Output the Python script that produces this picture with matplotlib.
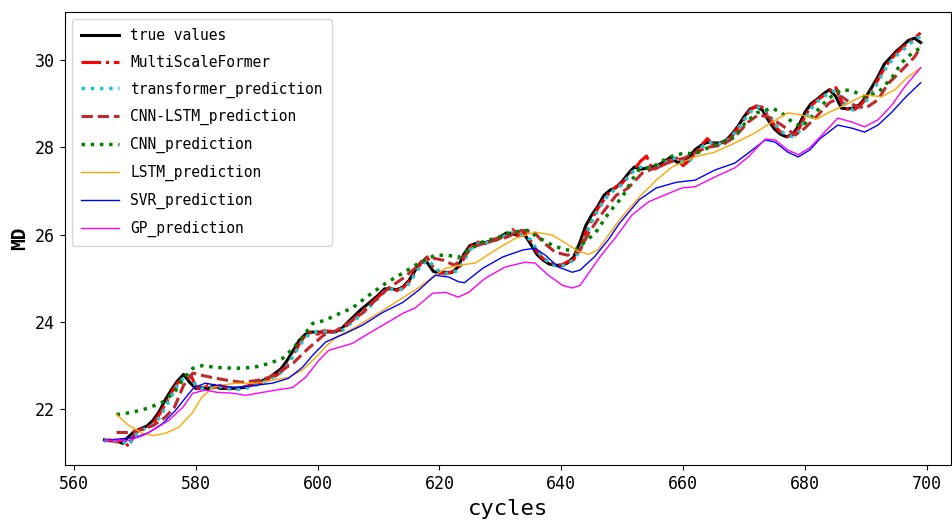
import matplotlib
matplotlib.use("Agg")
import matplotlib.pyplot as plt

# true values
true_c = [565, 566, 567, 568, 569, 570, 571, 572, 573, 574, 575, 576, 577, 578, 579, 580,
          581, 582, 583, 584, 586, 588, 590, 592, 594, 595, 596, 597, 598, 599, 601, 603,
          604, 605, 607, 609, 610, 611, 612, 613, 614, 615, 616, 617, 618, 619, 620, 621,
          622, 623, 624, 625, 626, 627, 628, 629, 630, 631, 632, 633, 634, 635, 636, 637,
          638, 639, 640, 641, 642, 643, 644, 645, 646, 647, 648, 649, 650, 651, 652, 653,
          654, 655, 656, 657, 658, 659, 660, 661, 662, 663, 664, 665, 666, 667, 668, 669,
          670, 671, 672, 673, 674, 675, 676, 677, 678, 679, 680, 681, 682, 683, 684, 685,
          686, 687, 688, 689, 690, 691, 692, 693, 694, 695, 696, 697, 698, 699]
true_v = [21.30, 21.28, 21.28, 21.22, 21.38, 21.50, 21.56, 21.62, 21.75, 21.95, 22.22, 22.45,
          22.65, 22.80, 22.62, 22.48, 22.50, 22.47, 22.55, 22.48, 22.48, 22.50, 22.60, 22.72,
          22.93, 23.12, 23.35, 23.58, 23.72, 23.77, 23.77, 23.78, 23.86, 24.00, 24.27, 24.50,
          24.62, 24.76, 24.76, 24.74, 24.80, 24.95, 25.18, 25.38, 25.36, 25.16, 25.12, 25.14,
          25.13, 25.25, 25.55, 25.75, 25.80, 25.80, 25.84, 25.88, 25.95, 26.04, 26.02, 25.98,
          26.00, 25.78, 25.55, 25.42, 25.33, 25.30, 25.30, 25.35, 25.48, 25.80, 26.20, 26.45,
          26.65, 26.90, 27.02, 27.08, 27.22, 27.40, 27.55, 27.50, 27.52, 27.55, 27.60, 27.68,
          27.78, 27.66, 27.64, 27.78, 27.95, 28.05, 28.12, 28.10, 28.10, 28.15, 28.30, 28.48,
          28.70, 28.88, 28.93, 28.86, 28.62, 28.42, 28.30, 28.24, 28.30, 28.50, 28.80, 29.00,
          29.10, 29.22, 29.32, 29.18, 28.90, 28.88, 28.90, 28.98, 29.15, 29.38, 29.62, 29.90,
          30.05, 30.20, 30.32, 30.45, 30.50, 30.40]

# MultiScaleFormer
msf_c = list(range(565, 700))
msf_v = [21.28, 21.30, 21.25, 21.30, 21.15, 21.45, 21.55, 21.58, 21.68, 21.88, 22.12, 22.38,
         22.60, 22.72, 22.85, 22.52, 22.45, 22.55, 22.50, 22.55, 22.50, 22.45, 22.48, 22.52,
         22.55, 22.58, 22.63, 22.68, 22.76, 22.85, 23.02, 23.25, 23.50, 23.70, 23.78, 23.72,
         23.80, 23.79, 23.78, 23.82, 23.95, 24.08, 24.20, 24.33, 24.45, 24.58, 24.72, 24.80,
         24.72, 24.78, 24.92, 25.15, 25.35, 25.48, 25.25, 25.15, 25.10, 25.15, 25.20, 25.45,
         25.70, 25.85, 25.78, 25.82, 25.90, 25.92, 26.00, 26.12, 25.98, 26.05, 25.85, 25.62,
         25.45, 25.38, 25.32, 25.30, 25.38, 25.42, 25.65, 26.05, 26.35, 26.60, 26.80, 26.98,
         27.10, 27.18, 27.35, 27.50, 27.68, 27.80, 27.48, 27.55, 27.62, 27.75, 27.75, 27.58,
         27.70, 27.85, 28.05, 28.20, 28.05, 28.08, 28.15, 28.25, 28.45, 28.65, 28.85, 28.95,
         28.92, 28.72, 28.50, 28.35, 28.25, 28.28, 28.42, 28.70, 28.95, 29.08, 29.18, 29.28,
         29.40, 29.05, 28.88, 28.85, 28.95, 29.10, 29.30, 29.55, 29.80, 30.00, 30.15, 30.28,
         30.40, 30.50, 30.62]

# transformer_prediction
tr_c = list(range(565, 700))
tr_v = [21.28, 21.28, 21.28, 21.25, 21.18, 21.40, 21.52, 21.58, 21.65, 21.80, 22.05, 22.30,
        22.55, 22.72, 22.78, 22.55, 22.48, 22.50, 22.48, 22.52, 22.48, 22.45, 22.46, 22.47,
        22.52, 22.56, 22.62, 22.68, 22.76, 22.85, 23.00, 23.22, 23.45, 23.65, 23.75, 23.77,
        23.78, 23.77, 23.76, 23.80, 23.92, 24.03, 24.15, 24.28, 24.42, 24.55, 24.70, 24.75,
        24.75, 24.75, 24.88, 25.10, 25.30, 25.42, 25.30, 25.15, 25.12, 25.12, 25.18, 25.40,
        25.65, 25.78, 25.80, 25.82, 25.86, 25.92, 26.00, 26.05, 26.00, 25.98, 25.88, 25.65,
        25.48, 25.36, 25.30, 25.28, 25.32, 25.42, 25.62, 25.98, 26.30, 26.55, 26.78, 26.95,
        27.05, 27.15, 27.32, 27.48, 27.55, 27.50, 27.52, 27.58, 27.65, 27.75, 27.75, 27.65,
        27.68, 27.85, 28.00, 28.10, 28.12, 28.08, 28.12, 28.25, 28.42, 28.62, 28.80, 28.92,
        28.92, 28.78, 28.55, 28.38, 28.28, 28.25, 28.35, 28.62, 28.88, 29.05, 29.15, 29.25,
        29.30, 29.10, 28.92, 28.85, 28.90, 29.05, 29.25, 29.50, 29.75, 29.95, 30.10, 30.22,
        30.35, 30.45, 30.55]

# CNN-LSTM_prediction
cl_c = [567, 569, 571, 573, 575, 576.5, 578, 579.5, 581, 583, 585, 587.5, 590, 592, 594, 596,
        598.5, 601, 603, 605, 607.5, 609.5, 611.5, 614, 616, 618, 620.5, 622.5, 624, 625.5,
        628, 631, 633.5, 635.5, 637, 639, 641, 643, 644.5, 646.5, 649, 651, 653.3, 655.4, 658,
        660.3, 662, 664, 666.4, 668.5, 670.7, 672.3, 674, 676.2, 678.4, 680, 682, 684, 686,
        688, 690, 692, 693.6, 696, 698, 699]
cl_v = [21.47, 21.47, 21.53, 21.63, 21.82, 22.05, 22.55, 22.83, 22.78, 22.72, 22.67, 22.62,
        22.66, 22.73, 22.88, 23.06, 23.40, 23.70, 23.80, 23.97, 24.22, 24.50, 24.76, 25.00,
        25.23, 25.49, 25.42, 25.30, 25.50, 25.72, 25.83, 25.94, 26.10, 26.06, 25.83, 25.60,
        25.53, 25.62, 26.04, 26.45, 26.90, 27.07, 27.41, 27.53, 27.67, 27.76, 27.88, 28.00,
        28.05, 28.24, 28.58, 28.74, 28.70, 28.51, 28.28, 28.44, 28.72, 29.02, 29.16, 28.97,
        28.90, 29.09, 29.45, 29.78, 30.07, 30.30]

# CNN_prediction
cnn_c = [567, 569.5, 572, 574.5, 576.5, 578, 579.5, 581, 583.5, 586.5, 589.5, 592, 594.3, 596,
         597.5, 599.2, 601.3, 603, 605.7, 608.4, 611.2, 614, 616.6, 619.3, 621.5, 623, 624.8,
         627, 629.7, 632, 634.5, 636.2, 638.5, 640.7, 642.3, 644, 645.6, 647.8, 650, 651.6,
         652.8, 655, 657.7, 660.2, 662, 664.1, 666.4, 668.5, 670.2, 672.1, 674.6, 676.2, 677.9,
         679.5, 681.1, 683.7, 686, 687.7, 689.8, 692, 694.3, 695.9, 697.6, 699]
cnn_v = [21.88, 21.93, 22.02, 22.16, 22.39, 22.71, 22.94, 23.00, 22.96, 22.94, 22.96, 23.05,
         23.17, 23.40, 23.65, 23.97, 24.04, 24.16, 24.32, 24.61, 24.89, 25.12, 25.35, 25.53,
         25.53, 25.47, 25.65, 25.83, 25.94, 26.06, 26.10, 25.94, 25.76, 25.65, 25.65, 25.85,
         26.04, 26.50, 26.86, 27.25, 27.50, 27.55, 27.78, 27.87, 27.85, 27.99, 28.12, 28.24,
         28.56, 28.79, 28.90, 28.79, 28.58, 28.47, 28.70, 29.10, 29.32, 29.30, 29.16, 29.25,
         29.60, 29.94, 30.16, 30.28]

# LSTM_prediction
lstm_c = [567, 569, 571.3, 573, 575, 577.2, 579.5, 581, 582.8, 584.1, 586.6, 589.8, 592.6,
          595.2, 597.5, 599.7, 601.8, 603.4, 606.2, 609.5, 612.8, 616, 618.9, 621, 623.1,
          625.9, 629.2, 632.5, 635.7, 638.5, 640.7, 642.8, 644.5, 646, 649.5, 652.8, 655.6,
          658.2, 661.8, 665.2, 668.5, 671.8, 674.6, 677.2, 679.5, 682, 683.8, 687, 689.8,
          692.6, 694.8, 696.7, 699]
lstm_v = [21.88, 21.63, 21.45, 21.40, 21.45, 21.59, 21.93, 22.28, 22.50, 22.55, 22.60, 22.60,
          22.67, 22.73, 22.90, 23.19, 23.50, 23.68, 23.88, 24.16, 24.45, 24.73, 25.03, 25.23,
          25.30, 25.35, 25.65, 25.92, 26.06, 25.99, 25.81, 25.62, 25.55, 25.65, 26.33, 26.86,
          27.25, 27.55, 27.78, 27.89, 28.10, 28.33, 28.58, 28.79, 28.74, 28.65, 28.79, 29.00,
          29.20, 29.16, 29.32, 29.59, 29.82]

# SVR_prediction
svr_c = [565, 568, 570.2, 572.3, 574.6, 576.7, 578.4, 579.7, 581.6, 583.5, 586.6, 589.8,
         592.6, 595.2, 597.5, 599.2, 601.3, 603.2, 604.6, 607.4, 610.7, 614, 616.6, 619.3,
         621.5, 623.2, 624.1, 627.1, 630.4, 633.7, 635.7, 637.4, 639.5, 641.8, 643.1, 645.5,
         647.7, 649.5, 652.8, 655.6, 658.9, 662, 665.2, 668.5, 670.7, 673.5, 675.1, 677.2,
         678.9, 680.8, 682.5, 685.4, 687.7, 689.8, 692, 694.3, 696.4, 699]
svr_v = [21.29, 21.33, 21.36, 21.47, 21.68, 21.98, 22.28, 22.50, 22.60, 22.55, 22.50, 22.55,
         22.60, 22.71, 22.96, 23.24, 23.54, 23.66, 23.74, 23.93, 24.22, 24.45, 24.73, 25.07,
         25.03, 24.92, 24.90, 25.23, 25.49, 25.65, 25.69, 25.53, 25.26, 25.14, 25.19, 25.50,
         25.88, 26.25, 26.80, 27.07, 27.20, 27.25, 27.48, 27.64, 27.87, 28.17, 28.12, 27.89,
         27.78, 27.94, 28.20, 28.51, 28.44, 28.35, 28.51, 28.81, 29.13, 29.48]

# GP_prediction
gp_c = [565, 569, 571.3, 573.4, 575.6, 577.9, 579.5, 581.6, 583.5, 586.1, 588.2, 591, 593.1,
        595.9, 598, 600.2, 601.8, 603.5, 605.7, 608.4, 611.6, 614, 616, 618.9, 621, 623.1,
        624.8, 627.5, 630.8, 634.1, 635.7, 637.9, 640.2, 641.8, 643.1, 646.4, 649, 651.6,
        654.3, 657, 659.8, 662, 665.2, 668.5, 670.7, 673.5, 675.1, 677.2, 678.9, 680.8,
        682.5, 685.4, 687.7, 689.8, 692, 694.3, 696.4, 699]
gp_v = [21.29, 21.29, 21.40, 21.56, 21.75, 22.05, 22.37, 22.44, 22.39, 22.37, 22.32, 22.39,
        22.44, 22.50, 22.73, 23.12, 23.35, 23.42, 23.51, 23.74, 24.00, 24.20, 24.32, 24.66,
        24.68, 24.57, 24.68, 25.00, 25.26, 25.37, 25.35, 25.07, 24.84, 24.78, 24.84, 25.50,
        25.95, 26.45, 26.75, 26.91, 27.07, 27.10, 27.32, 27.53, 27.78, 28.19, 28.17, 27.94,
        27.83, 27.99, 28.24, 28.67, 28.58, 28.47, 28.63, 28.97, 29.39, 29.82]

plt.rcParams["font.family"] = ["DejaVu Sans Mono"]

fig = plt.figure(figsize=(9.53, 5.21), dpi=100)
ax = fig.add_axes([0.068, 0.107, 0.93, 0.870])

ax.plot(true_c, true_v, color="black", lw=2.2, label="true values")
ax.plot(msf_c, msf_v, color="red", ls="-.", lw=2.2, label="MultiScaleFormer")
ax.plot(tr_c, tr_v, color="#17c7d2", ls=":", lw=2.5, label="transformer_prediction")
ax.plot(cl_c, cl_v, color="#c0282d", ls="--", lw=2.2, label="CNN-LSTM_prediction")
ax.plot(cnn_c, cnn_v, color="green", ls=":", lw=2.5, label="CNN_prediction")
ax.plot(lstm_c, lstm_v, color="orange", lw=1.0, label="LSTM_prediction")
ax.plot(svr_c, svr_v, color="blue", lw=1.0, label="SVR_prediction")
ax.plot(gp_c, gp_v, color="magenta", lw=1.0, label="GP_prediction")

ax.set_xlim(558.5, 704)
ax.set_ylim(20.72, 31.1)
ax.set_xticks([560, 580, 600, 620, 640, 660, 680, 700])
ax.set_yticks([22, 24, 26, 28, 30])
ax.tick_params(labelsize=12)
ax.set_xlabel("cycles", fontsize=16, labelpad=4)
ax.set_ylabel("MD", fontsize=14, fontweight="bold", labelpad=4)

ax.legend(loc="upper left", fontsize=10.5, handlelength=2.6, labelspacing=0.8,
          borderpad=0.6, frameon=True)

fig.savefig("out.png", dpi=100)
